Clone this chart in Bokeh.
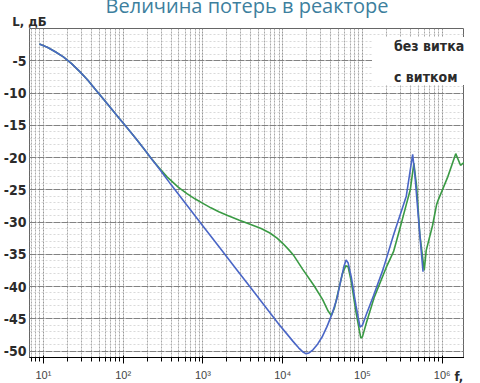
from bokeh.plotting import figure
from bokeh.models import FixedTicker, Legend, LegendItem, Range1d, LogAxis, Title
from bokeh.embed import file_html
from bokeh.resources import INLINE

# ---- data ----
# "без витка" (blue)
freq_blue = [8.91, 11.2, 14.1, 17.8, 22.4, 28.2, 35.5, 44.7, 56.2, 70.8, 89.1, 112,
             141, 178, 224, 282, 398, 631, 1000, 1585, 2512, 3981, 6310, 8913,
             11220, 13490, 15850, 17780, 19500, 21380, 23990, 27540, 31620, 36310,
             41690, 47860, 53700, 58880, 62370, 66070, 72440, 83180, 93330, 100000,
             112200, 138000, 182000, 245500, 354800, 426600, 457100, 524800, 575400]
loss_blue = [-2.4, -2.9, -3.6, -4.4, -5.4, -6.6, -7.9, -9.4, -10.9, -12.4, -13.9,
             -15.4, -16.9, -18.5, -20.1, -21.7, -24.2, -27.4, -30.6, -33.8, -37.0,
             -40.2, -43.4, -45.8, -47.3, -48.5, -49.5, -50.1, -50.4, -50.3, -49.8,
             -48.9, -47.7, -46.1, -44.2, -41.9, -39.0, -36.8, -35.9, -36.3, -38.5,
             -43.0, -46.3, -46.0, -44.3, -41.4, -37.3, -32.0, -26.0, -19.5, -23.0,
             -32.0, -37.7]

# "с витком" (green)
freq_green = [8.91, 11.2, 14.1, 17.8, 22.4, 28.2, 35.5, 44.7, 56.2, 70.8, 89.1, 112,
              141, 178, 224, 282, 355, 490, 631, 794, 1000, 1259, 1585, 2042, 2818,
              3981, 5370, 6918, 8511, 10000, 11750, 13800, 17780, 24550, 31620,
              37150, 40740, 44670, 50120, 56230, 61660, 66070, 72440, 83180, 95500,
              100000, 112200, 141300, 199500, 245500, 295100, 354800, 398100,
              441600, 478600, 524800, 595700, 631000, 758600, 851100, 891300,
              1175000, 1479000, 1698000, 1905000]
loss_green = [-2.4, -2.9, -3.6, -4.4, -5.4, -6.6, -7.9, -9.4, -10.9, -12.4, -13.9,
              -15.4, -16.9, -18.5, -20.1, -21.6, -23.0, -24.6, -25.6, -26.4, -27.1,
              -27.8, -28.4, -29.0, -29.7, -30.4, -31.0, -31.7, -32.5, -33.3, -34.2,
              -35.2, -37.3, -39.8, -42.0, -43.8, -44.5, -43.3, -40.6, -38.0, -36.8,
              -36.9, -39.2, -44.0, -48.0, -47.8, -45.6, -41.6, -37.0, -34.6, -31.0,
              -27.3, -25.0, -20.9, -24.5, -32.0, -37.5, -34.4, -30.5, -27.3, -26.6,
              -23.0, -19.4, -21.2, -20.7]

X_START, X_END = 6.70, 1905000.0

x_tick_values = [10, 100, 1000, 10000, 100000, 1000000]
x_tick_labels = ["10¹", "10²", "10³", "10⁴", "10⁵", "10⁶"]
y_tick_values = [-5, -10, -15, -20, -25, -30, -35, -40, -45, -50]
y_tick_labels = ["-5", "-10", "-15", "-20", "-25", "-30", "-35", "-40", "-45", "-50"]

series_names = ["без витка", "с витком"]
title_text = "Величина потерь в реакторе"
y_label = "L, дБ"
x_label = "f, Гц"

FONT = "DejaVu Sans Condensed, Liberation Sans Narrow, Roboto, sans-serif"

p = figure(width=464, height=383, x_axis_type="log",
           x_range=Range1d(X_START, X_END), y_range=Range1d(-51, 0),
           output_backend="svg", toolbar_location=None,
           min_border_left=25, min_border_right=0, min_border_top=28,
           min_border_bottom=17)
p.background_fill_color = "white"
p.border_fill_color = "white"
p.outline_line_color = "#666666"
p.outline_line_width = 1

# main title, cut by the top edge as in the reference
p.title = Title(text=title_text, align="center", vertical_align="top",
                standoff=-20, text_font="Open Sans", text_font_size="20px",
                text_font_style="normal", text_color="#3d7f9e")

# x ticks / grid
minor_x = []
for d in range(0, 7):
    for k in range(2, 10):
        v = k * 10 ** d
        if X_START <= v <= X_END:
            minor_x.append(v)
p.xaxis.ticker = FixedTicker(ticks=x_tick_values, minor_ticks=minor_x)
p.xaxis.major_label_overrides = {v: l for v, l in zip(x_tick_values, x_tick_labels)}
p.yaxis.ticker = FixedTicker(ticks=y_tick_values,
                             minor_ticks=[float(v) for v in range(-51, 0)])
p.yaxis.major_label_overrides = {v: l for v, l in zip(y_tick_values, y_tick_labels)}

# axis above carrying the unit label "L, дБ" at the left corner
y_name_pos = X_START * 1.0005
top_axis = LogAxis(ticker=FixedTicker(ticks=[y_name_pos]),
                   major_label_overrides={y_name_pos: y_label})
p.add_layout(top_axis, "above")

for ax in (p.xaxis[0], p.yaxis[0], top_axis):
    ax.axis_line_color = None
    ax.major_tick_line_color = None
    ax.minor_tick_line_color = None
    ax.major_tick_out = 0
    ax.major_tick_in = 0
    ax.minor_tick_out = 0
    ax.minor_tick_in = 0
    ax.axis_label = None
    ax.axis_label_standoff = 0
    ax.major_label_text_font = FONT
    ax.major_label_text_font_style = "bold"
    ax.major_label_text_color = "#2b2b2b"
p.xaxis[0].major_label_text_font_size = "13px"
p.yaxis[0].major_label_text_font_size = "14px"
top_axis.major_label_text_font_size = "13px"
p.xaxis[0].major_label_standoff = 2
p.yaxis[0].major_label_standoff = 3
top_axis.major_label_standoff = 0

# axis name "f, Гц" right after the last tick label, in the tick-label row
x_name = Title(text=x_label, align="left", vertical_align="top", offset=425,
               standoff=-30, text_font=FONT, text_font_size="13px",
               text_font_style="bold", text_color="#2b2b2b")
p.add_layout(x_name, "below")

p.xgrid.grid_line_color = "#8c8c8c"
p.xgrid.grid_line_dash = "2 1"
p.xgrid.grid_line_alpha = 0.9
p.xgrid.minor_grid_line_color = "#8c8c8c"
p.xgrid.minor_grid_line_dash = "2 1"
p.xgrid.minor_grid_line_alpha = 0.75
p.ygrid.grid_line_color = "#777777"
p.ygrid.grid_line_dash = "7 1"
p.ygrid.grid_line_alpha = 0.9
p.ygrid.minor_grid_line_color = "#bbbbbb"
p.ygrid.minor_grid_line_dash = "2 2"
p.ygrid.minor_grid_line_alpha = 0.55

# curves
p.line(freq_green, loss_green, line_color="#3a9a44", line_width=1.6)
p.line(freq_blue, loss_blue, line_color="#4a66c6", line_width=1.6)

# legend (own swatches, brighter like the reference)
r_leg_b = p.line([], [], line_color="#1f6fd6", line_width=3)
r_leg_g = p.line([], [], line_color="#24a84a", line_width=3)
legend = Legend(items=[LegendItem(label=series_names[0], renderers=[r_leg_b]),
                       LegendItem(label=series_names[1], renderers=[r_leg_g])],
                location=(343, 272))
legend.border_line_color = None
legend.background_fill_color = "white"
legend.background_fill_alpha = 1.0
legend.padding = 3
legend.margin = 0
legend.spacing = 14
legend.label_height = 17
legend.glyph_height = 17
legend.glyph_width = 22
legend.label_standoff = 0
legend.label_text_font = FONT
legend.label_text_font_style = "bold"
legend.label_text_font_size = "14px"
legend.label_text_color = "#2b2b2b"
p.add_layout(legend)

open("out.html", "w").write(file_html(p, INLINE))
